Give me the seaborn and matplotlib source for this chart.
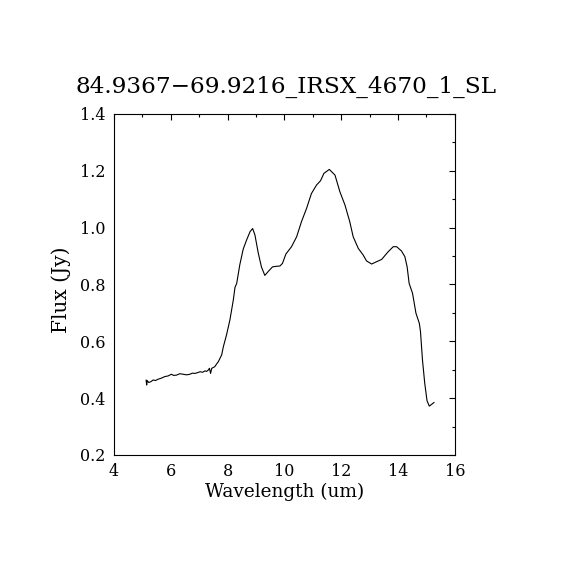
import numpy as np
import pandas as pd
import seaborn as sns
import matplotlib
matplotlib.use("Agg")
import matplotlib.pyplot as plt
from matplotlib.ticker import MultipleLocator

# spectrum
wavelength = [5.13, 5.15, 5.17, 5.22, 5.30, 5.38, 5.46, 5.56, 5.66, 5.79, 5.90,
              6.02, 6.10, 6.20, 6.32, 6.44, 6.55, 6.67, 6.76, 6.85, 6.95, 7.03,
              7.12, 7.20, 7.26, 7.32, 7.36, 7.40, 7.44, 7.50, 7.55, 7.61, 7.67,
              7.73, 7.79, 7.85, 7.96, 8.08, 8.20, 8.26, 8.32, 8.43, 8.55, 8.67,
              8.79, 8.88, 8.96, 9.08, 9.19, 9.31, 9.45, 9.58, 9.72, 9.84, 9.93,
              10.05, 10.25, 10.43, 10.60, 10.78, 10.95, 11.13, 11.27, 11.39,
              11.58, 11.66, 11.78, 11.95, 12.13, 12.30, 12.42, 12.60, 12.77,
              12.89, 13.07, 13.24, 13.42, 13.65, 13.83, 13.95, 14.12, 14.24,
              14.32, 14.39, 14.51, 14.63, 14.75, 14.79, 14.86, 14.94, 15.02,
              15.10, 15.18, 15.27]
flux = [0.464, 0.446, 0.462, 0.455, 0.458, 0.464, 0.462, 0.467, 0.470, 0.476, 0.478,
        0.484, 0.480, 0.481, 0.486, 0.484, 0.482, 0.484, 0.488, 0.487, 0.490, 0.493,
        0.491, 0.496, 0.494, 0.499, 0.505, 0.487, 0.505, 0.508, 0.511, 0.520, 0.528,
        0.540, 0.552, 0.581, 0.622, 0.675, 0.745, 0.790, 0.804, 0.870, 0.925, 0.957,
        0.986, 0.997, 0.975, 0.910, 0.862, 0.832, 0.848, 0.862, 0.864, 0.865, 0.874,
        0.907, 0.933, 0.968, 1.021, 1.068, 1.120, 1.150, 1.165, 1.191,
        1.205, 1.197, 1.185, 1.127, 1.080, 1.021, 0.968, 0.927, 0.904,
        0.883, 0.872, 0.880, 0.888, 0.915, 0.933, 0.933, 0.918, 0.898,
        0.862, 0.804, 0.769, 0.699, 0.663, 0.634, 0.534, 0.452, 0.391,
        0.372, 0.378, 0.385]

title = "84.9367\u221269.9216_IRSX_4670_1_SL"

df = pd.DataFrame({"Wavelength (um)": wavelength, "Flux (Jy)": flux})

sns.set_style("white")
plt.rcParams["font.family"] = ["DejaVu Serif"]
plt.rcParams.update({"text.color": "black", "axes.labelcolor": "black",
                     "xtick.color": "black", "ytick.color": "black"})

fig = plt.figure(figsize=(5.7, 5.7), dpi=100)
ax = fig.add_axes([0.2, 0.2018, 0.598, 0.5982])

sns.lineplot(data=df, x="Wavelength (um)", y="Flux (Jy)", sort=False,
             estimator=None, color="black", lw=0.8, ax=ax)

ax.set_xlim(4, 16)
ax.set_ylim(0.2, 1.4)
ax.xaxis.set_major_locator(MultipleLocator(2))
ax.xaxis.set_minor_locator(MultipleLocator(1))
ax.yaxis.set_major_locator(MultipleLocator(0.2))
ax.yaxis.set_minor_locator(MultipleLocator(0.1))
ax.set_yticklabels([f"{v:.1f}" for v in ax.get_yticks()])
ax.tick_params(which="both", direction="in", top=True, right=True,
               width=0.8, labelsize=11.5, color="black")
ax.tick_params(which="major", length=4.5, pad=6)
ax.tick_params(which="minor", length=2.2)
for s in ax.spines.values():
    s.set_color("black")
    s.set_linewidth(0.8)

ax.set_xlabel("Wavelength (um)", fontsize=13.3, labelpad=2)
ax.set_ylabel("Flux (Jy)", fontsize=14.5)
ax.yaxis.set_label_coords(-0.125, 0.484)
fig.text(0.502, 0.847, title, ha="center", va="center", fontsize=16.7)

fig.savefig("out.png", dpi=100, facecolor="white")
